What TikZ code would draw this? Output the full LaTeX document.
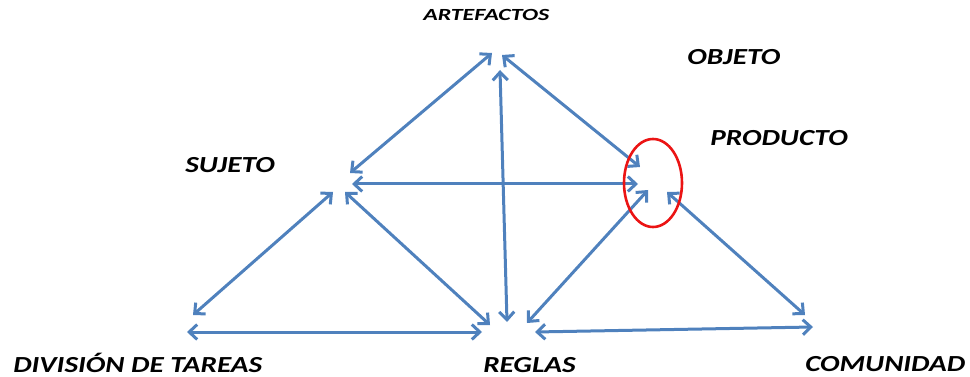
\documentclass[tikz,border=0pt]{standalone}
\usepackage{fontspec}
\setmainfont{Carlito}
\usetikzlibrary{arrows.meta}
\definecolor{linkblue}{RGB}{79,129,189}
\definecolor{ringred}{RGB}{235,20,20}
\begin{document}
\begin{tikzpicture}[x=1pt, y=-1pt, >={Straight Barb[length=8pt, width=15pt]},
    every node/.style={font=\fontsize{23}{26}\selectfont\bfseries\itshape, anchor=base west, inner sep=0pt, xscale=1.27},
    link/.style={<->, linkblue, line width=3pt}]
    \useasboundingbox (0,0) rectangle (970,377);
    % labels
    \node[font=\fontsize{17}{20}\selectfont\bfseries\itshape, xscale=1.11] (artefactos) at (423,21) {ARTEFACTOS};
    \node (objeto)    at (687,65)  {OBJETO};
    \node (producto)  at (710,146) {PRODUCTO};
    \node (sujeto)    at (185,173) {SUJETO};
    \node (division)  at (13,372)  {DIVISIÓN DE TAREAS};
    \node (reglas)    at (483,372) {REGLAS};
    \node (comunidad) at (805,371) {COMUNIDAD};
    % arrow ends
    \coordinate (art-l) at (492,53);
    \coordinate (art-r) at (502,55);
    \coordinate (art-b) at (500,70);
    \coordinate (suj-t) at (350,173);
    \coordinate (suj-r) at (352,184);
    \coordinate (suj-bl) at (333,192);
    \coordinate (suj-br) at (345,192);
    \coordinate (pro-t) at (640,167);
    \coordinate (pro-l) at (638,184);
    \coordinate (pro-bl) at (648,190);
    \coordinate (pro-br) at (667,192);
    \coordinate (div-t) at (193,315);
    \coordinate (div-r) at (187,332);
    \coordinate (reg-t) at (507,322);
    \coordinate (reg-tl) at (490,325);
    \coordinate (reg-l) at (482,332);
    \coordinate (reg-tr) at (527,323);
    \coordinate (reg-r) at (535,332);
    \coordinate (com-t) at (805,315);
    \coordinate (com-l) at (813,327);
    % connectors
    \draw[link] (art-l) -- (suj-t);
    \draw[link] (art-r) -- (pro-t);
    \draw[link] (art-b) -- (reg-t);
    \draw[link] (suj-r) -- (pro-l);
    \draw[link] (suj-bl) -- (div-t);
    \draw[link] (suj-br) -- (reg-tl);
    \draw[link] (div-r) -- (reg-l);
    \draw[link] (reg-tr) -- (pro-bl);
    \draw[link] (pro-br) -- (com-t);
    \draw[link] (reg-r) -- (com-l);
    % product ring
    \draw[ringred, line width=2.6pt] (653,183) ellipse [x radius=29, y radius=44];
\end{tikzpicture}
\end{document}
